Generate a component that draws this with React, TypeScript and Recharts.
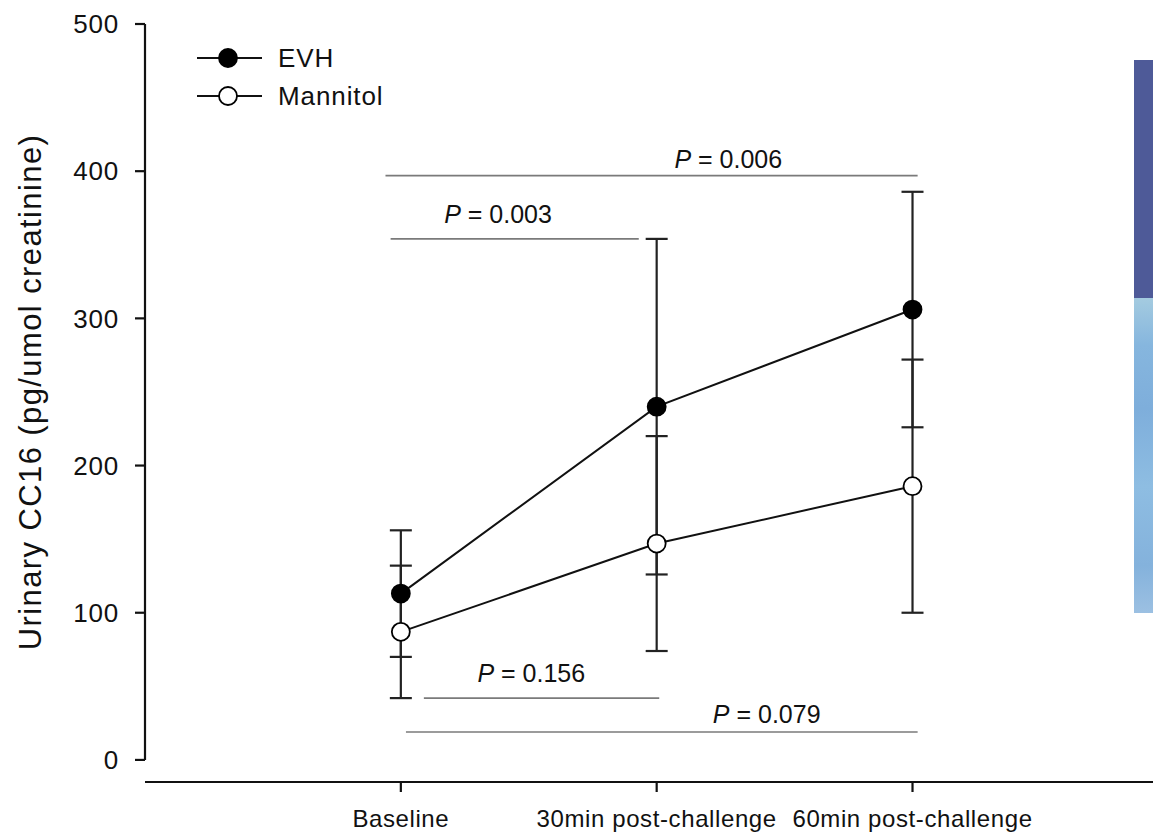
import React from 'react';
import {
  LineChart,
  Line,
  XAxis,
  YAxis,
  ErrorBar,
  ReferenceLine,
  Legend,
} from 'recharts';

const timepoints = ['Baseline', '30min post-challenge', '60min post-challenge'];
const evhMean = [113, 240, 306];
const evhSd = [43, 114, 80];
const mannitolMean = [87, 147, 186];
const mannitolSd = [45, 73, 86];
const yTicks = [0, 100, 200, 300, 400, 500];

// pairwise comparisons: label, span in timepoint units, height in pg/umol
const pValues = ['0.006', '0.003', '0.156', '0.079'];
const pFrom = [-0.06, -0.04, 0.09, 0.02];
const pTo = [2.02, 0.93, 1.01, 2.02];
const pLevel = [397, 354, 42, 19];
const pTextAt = [1.28, 0.38, 0.51, 1.43];
const pTextGap = [8, 16, 16, 9];

const FONT = '"Liberation Sans", Arial, sans-serif';
const INK = '#111';

const rows = timepoints.map((t, i) => ({
  x: i,
  evh: evhMean[i],
  evhErr: evhSd[i],
  mannitol: mannitolMean[i],
  mannitolErr: mannitolSd[i],
}));

const series = [
  { key: 'evh', name: 'EVH', fill: '#000' },
  { key: 'mannitol', name: 'Mannitol', fill: '#fff' },
];

function LegendBox() {
  return (
    <div style={{ fontFamily: FONT, fontSize: 26, color: INK }}>
      {series.map((s) => (
        <div key={s.key} style={{ display: 'flex', alignItems: 'center', height: 38 }}>
          <svg width={68} height={24}>
            <line x1={1} y1={12} x2={66} y2={12} stroke={INK} strokeWidth={2} />
            <circle cx={32} cy={12} r={9} fill={s.fill} stroke="#000" strokeWidth={1.8} />
          </svg>
          <span style={{ marginLeft: 14, letterSpacing: 0.9 }}>{s.name}</span>
        </div>
      ))}
    </div>
  );
}

function pLabel(i: number) {
  return (props: any) => {
    const vb = props.viewBox || {};
    const frac = (pTextAt[i] - pFrom[i]) / (pTo[i] - pFrom[i]);
    const cx = vb.x + frac * vb.width;
    return (
      <text
        x={cx}
        y={vb.y - pTextGap[i]}
        textAnchor="middle"
        fontFamily={FONT}
        fontSize={25}
        fill={INK}
      >
        <tspan fontStyle="italic">P</tspan>
        {' = ' + pValues[i]}
      </text>
    );
  };
}

function YLabel(props: any) {
  const vb = props.viewBox || {};
  const cy = vb.y + (vb.height - 22) / 2;
  return (
    <text
      x={30}
      y={cy}
      transform={`rotate(-90, 30, ${cy})`}
      textAnchor="middle"
      dominantBaseline="central"
      fontFamily={FONT}
      fontSize={31}
      letterSpacing={1.4}
      fill={INK}
    >
      Urinary CC16 (pg/umol creatinine)
    </text>
  );
}

export default function App() {
  return (
    <div style={{ position: 'absolute', left: 0, top: 0, width: 1153, height: 832, background: '#fff' }}>
      <LineChart
        width={1153}
        height={832}
        data={rows}
        margin={{ top: 24, right: 0, bottom: 0, left: 0 }}
      >
        <XAxis
          type="number"
          dataKey="x"
          domain={[-1, 2.94]}
          ticks={[0, 1, 2]}
          interval={0}
          tickFormatter={(v: number) => timepoints[v] ?? ''}
          height={50}
          tickSize={10}
          tickMargin={18}
          stroke={INK}
          strokeWidth={2.2}
          tick={{ fontSize: 24, fill: INK, fontFamily: FONT, letterSpacing: 0.6 }}
        />
        <YAxis
          type="number"
          domain={[-15, 500]}
          ticks={yTicks}
          width={145}
          axisLine={false}
          tickSize={10}
          tickMargin={16}
          stroke={INK}
          strokeWidth={2.2}
          tick={{ fontSize: 26, fill: INK, fontFamily: FONT, letterSpacing: 0.8 }}
          label={<YLabel />}
        />
        <ReferenceLine
          segment={[{ x: -1, y: 0 }, { x: -1, y: 500 }]}
          stroke={INK}
          strokeWidth={2.2}
          ifOverflow="visible"
        />
        {pValues.map((p, i) => (
          <ReferenceLine
            key={p}
            segment={[{ x: pFrom[i], y: pLevel[i] }, { x: pTo[i], y: pLevel[i] }]}
            stroke="#7a7a7a"
            strokeWidth={1.6}
            ifOverflow="visible"
            label={pLabel(i)}
          />
        ))}
        <Legend
          layout="vertical"
          align="center"
          verticalAlign="middle"
          content={() => <LegendBox />}
          wrapperStyle={{ left: 196, top: 39, width: 'auto', height: 'auto' }}
        />
        <Line
          dataKey="evh"
          name="EVH"
          stroke={INK}
          strokeWidth={2}
          dot={{ r: 9, fill: '#000', stroke: '#000', strokeWidth: 1.8 }}
          activeDot={false}
          isAnimationActive={false}
        >
          <ErrorBar dataKey="evhErr" width={11} stroke="#222" strokeWidth={2.2} direction="y" />
        </Line>
        <Line
          dataKey="mannitol"
          name="Mannitol"
          stroke={INK}
          strokeWidth={2}
          dot={{ r: 9, fill: '#fff', stroke: '#000', strokeWidth: 1.8 }}
          activeDot={false}
          isAnimationActive={false}
        >
          <ErrorBar dataKey="mannitolErr" width={11} stroke="#222" strokeWidth={2.2} direction="y" />
        </Line>
      </LineChart>
      <div style={{ position: 'absolute', left: 1134, top: 60, width: 19, height: 238, background: '#4e5a98' }} />
      <div
        style={{
          position: 'absolute',
          left: 1134,
          top: 298,
          width: 19,
          height: 315,
          background: 'linear-gradient(180deg, #a4cbe0 0%, #86b6de 15%, #7eaedb 35%, #8ebde2 60%, #84b2dc 85%, #9cc0e2 100%)',
        }}
      />
    </div>
  );
}
